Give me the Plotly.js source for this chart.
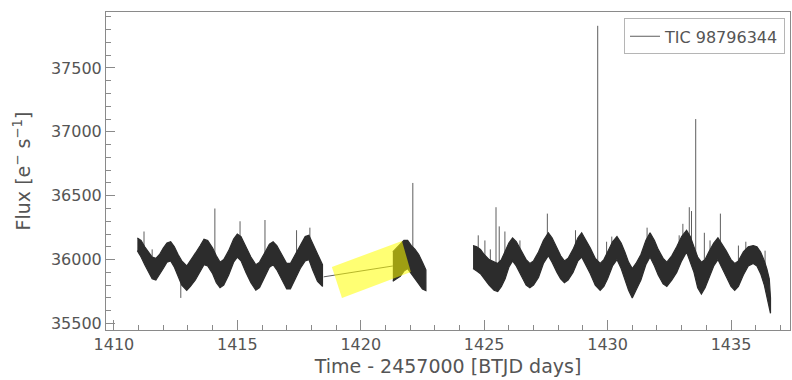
<!DOCTYPE html>
<html>
<head>
<meta charset="utf-8">
<script src="https://cdn.plot.ly/plotly-3.0.1.min.js"></script>
<style>
  html, body { margin: 0; padding: 0; background: #fff; }
  #chart { width: 792px; height: 380px; }
</style>
</head>
<body>
<div id="chart"></div>
<script>
// Light curve of TIC 98796344 (TESS), flux in e-/s versus BTJD.
// The densely sampled curve is described by its upper and lower envelope
// per observing segment; isolated flares are listed separately.

// Segment 1
const seg1Time  = [1410.95, 1411.1, 1411.25, 1411.4, 1411.55, 1411.7, 1411.85, 1412.0, 1412.15, 1412.3,
                   1412.45, 1412.6, 1412.75, 1412.95, 1413.1, 1413.3, 1413.5, 1413.65, 1413.8, 1414.0,
                   1414.15, 1414.3, 1414.45, 1414.65, 1414.85, 1415.0, 1415.15, 1415.35, 1415.55, 1415.75,
                   1415.9, 1416.1, 1416.3, 1416.45, 1416.6, 1416.8, 1417.0, 1417.15, 1417.35, 1417.55,
                   1417.75, 1417.9, 1418.05, 1418.25, 1418.45];
const seg1Upper = [36170, 36150, 36100, 36060, 36020, 36010, 36040, 36090, 36130, 36140,
                   36100, 36040, 35990, 35950, 35990, 36050, 36110, 36160, 36150, 36090,
                   36030, 35980, 36000, 36070, 36160, 36200, 36180, 36100, 36020, 35960,
                   35980, 36050, 36120, 36140, 36110, 36040, 35970, 35970, 36040, 36110,
                   36180, 36190, 36130, 36040, 35960];
const seg1Lower = [36070, 36020, 35960, 35900, 35850, 35840, 35880, 35930, 35980, 35990,
                   35940, 35870, 35800, 35760, 35790, 35840, 35910, 35960, 35950, 35890,
                   35820, 35780, 35800, 35880, 35980, 36020, 35990, 35900, 35820, 35760,
                   35780, 35860, 35940, 35960, 35920, 35850, 35770, 35770, 35850, 35930,
                   35990, 36000, 35920, 35830, 35790];

// Segment 2
const seg2Time  = [1421.3, 1421.45, 1421.6, 1421.75, 1421.9, 1422.05, 1422.2, 1422.35, 1422.5, 1422.64];
const seg2Upper = [36060, 36090, 36120, 36150, 36150, 36110, 36080, 36040, 35980, 35920];
const seg2Lower = [35830, 35850, 35870, 35910, 35930, 35890, 35850, 35810, 35770, 35757];

// Segment 3
const seg3Time  = [1424.55, 1424.7, 1424.85, 1425.0, 1425.2, 1425.4, 1425.55, 1425.7, 1425.85, 1426.0,
                   1426.15, 1426.3, 1426.5, 1426.7, 1426.85, 1427.0, 1427.2, 1427.4, 1427.6, 1427.75,
                   1427.95, 1428.1, 1428.25, 1428.4, 1428.6, 1428.8, 1428.95, 1429.1, 1429.3, 1429.5,
                   1429.7, 1429.85, 1430.0, 1430.2, 1430.38, 1430.55, 1430.7, 1430.85, 1431.0, 1431.15,
                   1431.35, 1431.55, 1431.72, 1431.9, 1432.05, 1432.25, 1432.4, 1432.6, 1432.8, 1433.0,
                   1433.2, 1433.35, 1433.5, 1433.65, 1433.8, 1433.95, 1434.1, 1434.3, 1434.47, 1434.65,
                   1434.8, 1435.0, 1435.15, 1435.3, 1435.5, 1435.7, 1435.9, 1436.05, 1436.2, 1436.35,
                   1436.45, 1436.55, 1436.6];
const seg3Upper = [36110, 36100, 36080, 36040, 36000, 35980, 35970, 36000, 36060, 36130,
                   36170, 36140, 36070, 36000, 35970, 35990, 36060, 36150, 36210, 36170,
                   36090, 36030, 35990, 36010, 36080, 36170, 36210, 36160, 36090, 36010,
                   35970, 36000, 36060, 36140, 36180, 36130, 36060, 35980, 35930, 35970,
                   36040, 36150, 36210, 36150, 36080, 36010, 35980, 36030, 36100, 36180,
                   36230, 36180, 36100, 36020, 35980, 36000, 36060, 36130, 36170, 36120,
                   36070, 36000, 35970, 35990, 36060, 36100, 36110, 36100, 36060, 35990,
                   35930, 35850, 35700];
const seg3Lower = [35930, 35910, 35890, 35850, 35800, 35760, 35750, 35790, 35850, 35940,
                   35990, 35950, 35870, 35800, 35780, 35800, 35860, 35970, 36030, 35980,
                   35900, 35850, 35820, 35840, 35900, 35990, 36020, 35960, 35890, 35800,
                   35760, 35790, 35850, 35950, 36000, 35930, 35850, 35760, 35700, 35760,
                   35840, 35960, 36020, 35950, 35880, 35810, 35790, 35840, 35900, 35990,
                   36060, 35980, 35900, 35780, 35730, 35780, 35860, 35950, 36000, 35930,
                   35870, 35790, 35760, 35790, 35880, 35950, 35970, 35950, 35890, 35800,
                   35720, 35620, 35580];

// Straight line across the mid-sector gap
const gapTime = [1418.5, 1421.3];
const gapFlux = [35865, 35950];

// Flares and outliers: time, flux where they leave the band, extreme flux
const spikeTime = [1411.22, 1411.55, 1412.71, 1414.09, 1415.11, 1416.12, 1417.40, 1417.94,
                   1422.11,
                   1424.76, 1425.03, 1425.48, 1425.61, 1425.84, 1427.56, 1429.60, 1429.96, 1430.17,
                   1433.31, 1433.40, 1433.57, 1433.92, 1434.15, 1434.57, 1435.30, 1436.38,
                   1425.25, 1426.45, 1428.70, 1431.60, 1432.90, 1433.05, 1435.60];
const spikeBase = [36050, 35950, 35850, 35950, 36050, 35950, 35950, 36000,
                   35950,
                   36000, 35950, 35900, 35900, 35950, 36050, 35900, 35950, 35980,
                   36050, 36050, 35950, 35900, 35950, 36000, 35900, 35880,
                   35950, 36000, 36050, 36080, 36050, 36100, 36000];
const spikePeak = [36220, 36080, 35700, 36400, 36300, 36310, 36230, 36250,
                   36600,
                   36190, 36150, 36410, 36260, 36220, 36360, 37830, 36140, 36180,
                   36410, 36380, 37100, 36210, 36150, 36360, 36110, 36070,
                   36080, 36150, 36230, 36250, 36190, 36280, 36140];

// Highlighted region (rotated box around the gap end), corners in data units
const boxTime = [1418.83, 1419.24, 1422.03, 1421.67];
const boxFlux = [35942, 35700, 35903, 36146];

// Axis ticks
const xTicks = [1410, 1415, 1420, 1425, 1430, 1435];
const yTicks = [35500, 36000, 36500, 37000, 37500];

const curveColor = '#2c2c2c';
const thinColor = '#5e5e5e';
const axisColor = '#8a8a8a';
const textColor = '#555555';
const font = 'DejaVu Sans, Liberation Sans, sans-serif';

function band(t, hi, lo) {
  return {
    x: t.concat(t.slice().reverse()),
    y: hi.concat(lo.slice().reverse()),
    type: 'scatter', mode: 'lines', fill: 'toself',
    fillcolor: curveColor,
    line: { color: curveColor, width: 1.2 },
    hoverinfo: 'skip', showlegend: false
  };
}

// thin line trace: gap connector plus flare lines
const thinX = gapTime.slice();
const thinY = gapFlux.slice();
spikeTime.forEach((t, i) => {
  thinX.push(null, t, t);
  thinY.push(null, spikeBase[i], spikePeak[i]);
});

const data = [
  {
    x: thinX, y: thinY, type: 'scatter', mode: 'lines',
    line: { color: thinColor, width: 1 },
    name: 'TIC 98796344', connectgaps: false
  },
  band(seg1Time, seg1Upper, seg1Lower),
  band(seg2Time, seg2Upper, seg2Lower),
  band(seg3Time, seg3Upper, seg3Lower)
];

const boxPath = boxTime.map((t, i) => (i ? 'L' : 'M') + t + ',' + boxFlux[i]).join(' ') + ' Z';

const axisCommon = {
  showline: true, linecolor: axisColor, linewidth: 1, mirror: true,
  ticks: 'inside', tickcolor: axisColor, tickwidth: 1,
  showgrid: false, zeroline: false,
  tickfont: { family: font, size: 16, color: textColor }
};

const layout = {
  width: 792, height: 380,
  margin: { l: 106, r: 2, t: 12, b: 50 },
  paper_bgcolor: '#ffffff', plot_bgcolor: '#ffffff',
  font: { family: font, color: textColor },
  xaxis: Object.assign({}, axisCommon, {
    range: [1409.68, 1437.39],
    tickmode: 'array', tickvals: xTicks, ticktext: xTicks.map(String),
    ticklen: 10,
    minor: { tickmode: 'linear', tick0: 1410, dtick: 1, ticks: 'inside', ticklen: 5, tickcolor: axisColor, showgrid: false },
    title: { text: 'Time - 2457000 [BTJD days]', font: { family: font, size: 19, color: textColor }, standoff: 6 }
  }),
  yaxis: Object.assign({}, axisCommon, {
    range: [35449, 37938],
    tickmode: 'array', tickvals: yTicks, ticktext: yTicks.map(String),
    ticklen: 9,
    minor: { tickmode: 'linear', tick0: 35500, dtick: 100, ticks: 'inside', ticklen: 5, tickcolor: axisColor, showgrid: false },
    title: { text: 'Flux [e<sup>−</sup> s<sup>−1</sup>]', font: { family: font, size: 19, color: textColor }, standoff: 15 }
  }),
  showlegend: true,
  legend: {
    x: 0.9927, y: 0.98, xanchor: 'right', yanchor: 'top',
    bgcolor: '#ffffff', bordercolor: '#b5b5b5', borderwidth: 1,
    itemwidth: 30,
    font: { family: font, size: 16, color: textColor }
  },
  shapes: [{
    type: 'path', xref: 'x', yref: 'y', path: boxPath,
    fillcolor: 'rgba(255,255,0,0.55)', line: { width: 0 }, layer: 'above'
  }]
};

Plotly.newPlot('chart', data, layout, { staticPlot: true, displayModeBar: false });
</script>
</body>
</html>
